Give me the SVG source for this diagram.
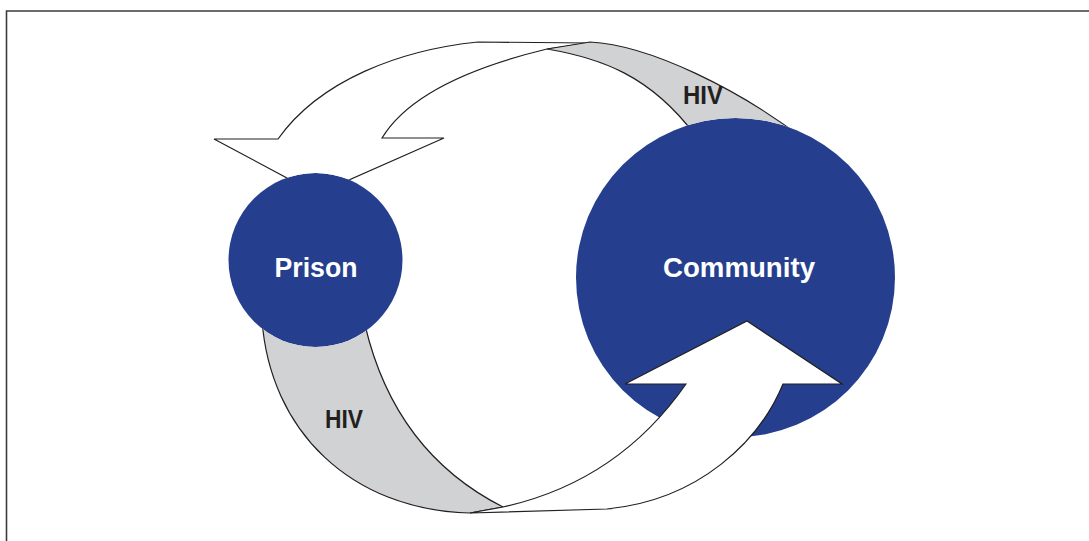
<svg xmlns="http://www.w3.org/2000/svg" width="1089" height="541" viewBox="0 0 1089 541">
  <style>
    .node { fill: #253f8e; }
    .nodelabel { font-family: "Liberation Sans", Arial, sans-serif; font-weight: bold; font-size: 27px; fill: #ffffff; text-anchor: middle; }
    .arrow { fill: #ffffff; stroke: #231f20; stroke-width: 1.2; stroke-linejoin: miter; }
    .band { fill: #d1d2d4; stroke: #231f20; stroke-width: 1.2; }
    .hiv { font-family: "Liberation Sans", Arial, sans-serif; font-weight: bold; font-size: 26px; fill: #231f20; text-anchor: middle; }
  </style>
  <defs>
    <mask id="behindNodes" maskUnits="userSpaceOnUse" x="0" y="0" width="1089" height="541">
      <rect x="0" y="0" width="1089" height="541" fill="#fff"/>
      <circle cx="315.5" cy="260" r="87" fill="#000"/>
      <circle cx="735.5" cy="277.5" r="159.5" fill="#000"/>
    </mask>
  </defs>
  <rect x="0" y="0" width="1089" height="541" fill="#ffffff"/>
  <path d="M6.5,541 V11 H1089" fill="none" stroke="#3c3c3c" stroke-width="1.6"/>

  <g id="prison">
    <circle class="node" cx="315.5" cy="260" r="87"/>
    <text class="nodelabel" x="316" y="277" textLength="83" lengthAdjust="spacingAndGlyphs">Prison</text>
  </g>
  <g id="community">
    <circle class="node" cx="735.5" cy="277.5" r="159.5"/>
    <text class="nodelabel" x="739" y="277" textLength="152" lengthAdjust="spacingAndGlyphs">Community</text>
  </g>

  <g id="connectors">
    <g mask="url(#behindNodes)">
      <path class="arrow" d="M590,43 L478,42 C400,50 320,80 278,139 L214,139 L317,194 L444,138 L382,138 C405,100 460,70 547,49 Z"/>
      <path class="band" d="M547,49 L590,42 C650,45 740,90 805,140 L695,135 C650,75 600,58 547,49 Z"/>
      <path class="band" d="M262,320 C270,430 350,510 470,513 L503,507 C430,470 385,410 365,325 Z"/>
    </g>
    <path class="arrow" d="M470,513 L607,509 C700,500 760,440 783,384 L842,384 L747,321 L625,384 L686,384 C640,450 580,490 503,507 Z"/>
    <text class="hiv" x="703" y="104" textLength="40" lengthAdjust="spacingAndGlyphs">HIV</text>
    <text class="hiv" x="344" y="428" textLength="38" lengthAdjust="spacingAndGlyphs">HIV</text>
  </g>
</svg>
